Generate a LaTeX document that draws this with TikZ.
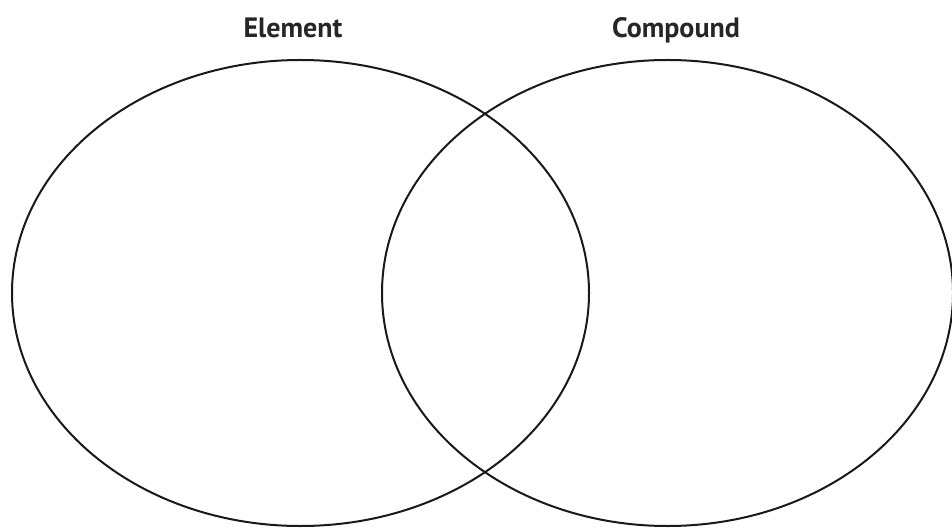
\documentclass[tikz,border=0pt]{standalone}
\usepackage{fontspec}
\setsansfont{PT Sans}
\usepackage{tikz}
\usetikzlibrary{positioning}

\begin{document}
\begin{tikzpicture}[x=1pt,y=-1pt,font=\sffamily\bfseries]
  \useasboundingbox (0,0) rectangle (952,529);
  \tikzset{setline/.style={line width=2pt,black!90},
    setlabel/.style={anchor=base,inner sep=0pt,text=black!85,
      font=\fontsize{28}{32}\selectfont\sffamily\bfseries}}
  % ---- sets ----
  \draw[setline] (300.5,293) ellipse [x radius=288.5,y radius=233];
  \draw[setline] (667.5,293) ellipse [x radius=285.5,y radius=233];
  % ---- labels ----
  \node[setlabel] (element) at (293,38) {Element};
  \node[setlabel] (compound) at (676,38) {Compound};
\end{tikzpicture}
\end{document}
